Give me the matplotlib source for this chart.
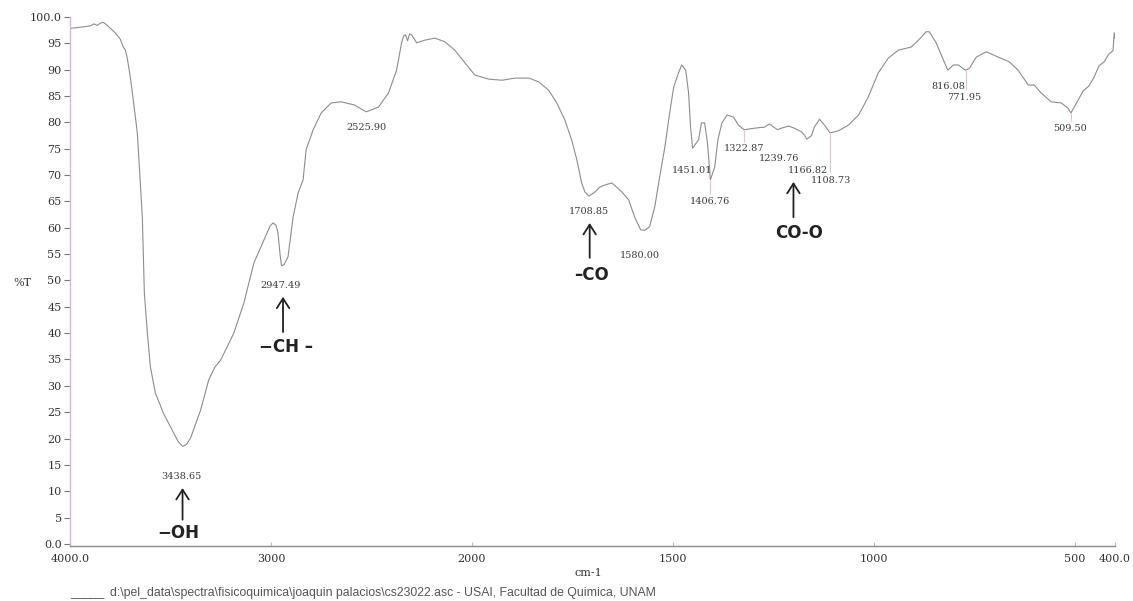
import numpy as np
import matplotlib
matplotlib.use("Agg")
import matplotlib.pyplot as plt

# FTIR spectrum: wavenumber (cm-1) and transmittance (%T)
wavenumber = [
    4000, 3985, 3940, 3900, 3880, 3865, 3850, 3835, 3820, 3800, 3775, 3750,
    3735, 3725, 3715, 3700, 3685, 3665, 3655, 3640, 3630, 3615, 3600, 3575,
    3535, 3485, 3460, 3438.65, 3420, 3400, 3350, 3310, 3280, 3250, 3185, 3135,
    3085, 3035, 3005, 2990, 2975, 2965, 2955, 2947.49, 2935, 2915, 2890, 2865,
    2840, 2825, 2790, 2750, 2700, 2650, 2585, 2525.90, 2465, 2415, 2375, 2350,
    2340, 2330, 2320, 2310, 2300, 2275, 2235, 2185, 2135, 2085, 2035,
    1993, 1958, 1925, 1893, 1858, 1834, 1809, 1789, 1769, 1752, 1739, 1727,
    1719, 1708.85, 1694, 1682, 1670, 1652, 1640, 1627, 1610, 1595, 1580.00,
    1570, 1558, 1545, 1533, 1520, 1508, 1498, 1486, 1478, 1468, 1461, 1456,
    1451.01, 1436, 1429, 1421, 1414, 1409, 1406.76, 1396, 1388, 1378, 1365,
    1349, 1337, 1322.87, 1297, 1272, 1260, 1239.76, 1230, 1212, 1198, 1180,
    1173, 1166.82, 1155, 1148, 1135, 1123, 1108.73, 1088, 1063, 1038, 1014,
    989, 964, 939, 907, 889, 870, 862, 845, 830, 816.08, 802, 790, 771.95,
    762, 745, 720, 691, 663, 641, 616, 601, 584, 559, 534, 517, 509.50, 497,
    479, 465, 452, 440, 427, 415, 405, 402, 400,
]
transmittance = [
    97.8, 97.9, 98.1, 98.3, 98.7, 98.4, 98.8, 99.0, 98.6, 97.9, 97.0, 95.8,
    94.3, 93.8, 92.2, 88.6, 84.2, 78.0, 71.5, 62.0, 47.6, 40.0, 33.6, 28.6,
    24.8, 21.1, 19.3, 18.5, 18.9, 20.1, 25.4, 31.1, 33.5, 34.9, 40.0, 45.7,
    53.3, 57.7, 60.3, 60.9, 60.5, 59.0, 55.0, 52.8, 53.0, 54.5, 62.0, 66.6,
    69.1, 74.8, 78.6, 81.8, 83.7, 83.9, 83.3, 82.0, 82.9, 85.6, 89.9, 95.1,
    96.4, 96.6, 95.5, 96.8, 96.6, 95.1, 95.6, 96.0, 95.3, 93.7, 91.3,
    89.0, 88.2, 88.0, 88.4, 88.4, 87.7, 86.1, 83.7, 80.5, 76.7, 72.9, 68.5,
    66.8, 66.0, 66.8, 67.7, 68.1, 68.5, 67.7, 66.8, 65.3, 62.0, 59.6,
    59.5, 60.2, 64.0, 69.6, 75.3, 81.8, 86.7, 89.4, 90.9, 89.9, 85.6, 79.1,
    75.1, 76.7, 79.9, 79.9, 76.1, 71.5, 69.1, 71.5, 76.7, 79.9, 81.4,
    81.0, 79.5, 78.6, 78.9, 79.1, 79.7, 78.6, 78.9, 79.3, 78.9, 78.2,
    77.6, 76.8, 77.5, 79.1, 80.6, 79.5, 78.0, 78.4, 79.5, 81.4, 84.8,
    89.4, 92.2, 93.7, 94.3, 95.6, 97.2, 97.2, 95.1, 92.4, 89.9, 90.9, 90.9, 89.9,
    90.3, 92.4, 93.4, 92.4, 91.5, 89.9, 87.1, 87.1, 85.6, 83.9, 83.7, 82.7, 81.8, 83.5,
    86.0, 86.9, 88.6, 90.7, 91.5, 93.0, 93.6, 97.0, 96.0,
]

# Labelled band positions: text and label centre
peak_labels = ["3438.65", "2947.49", "2525.90", "1708.85", "1580.00",
               "1451.01", "1406.76", "1322.87", "1239.76", "1166.82",
               "1108.73", "816.08", "771.95", "509.50"]
peak_x = [3445, 2950, 2525, 1709, 1583, 1453, 1409, 1324, 1237, 1163,
          1106, 815, 775, 512]
peak_y = [12.7, 49.0, 79.1, 63.0, 54.8, 70.8, 64.9, 75.0, 73.1, 70.8,
          68.9, 86.9, 84.8, 78.9]

# Drop lines from a band down to its label
drop_x = [1406.76, 1322.87, 1108.73, 771.95, 509.50]
drop_top = [69.1, 78.6, 78.0, 89.9, 81.8]
drop_bottom = [66.5, 76.3, 70.5, 86.2, 80.2]

# Functional group arrows
group_names = ["\u2212OH", "\u2212CH \u2013", "\u2013CO", "CO-O"]
group_x = [3440, 2940, 1707, 1200]
group_arrow_lo = [4.6, 40.2, 54.3, 62.0]
group_arrow_hi = [10.6, 46.9, 60.9, 68.7]
group_text_x = [3460, 2925, 1702, 1185]
group_text_y = [2.1, 37.4, 51.0, 59.0]

x_ticks = [4000, 3000, 2000, 1500, 1000, 500, 400]
x_tick_labels = ["4000.0", "3000", "2000", "1500", "1000", "500", "400.0"]
y_ticks = list(range(0, 101, 5))
y_tick_labels = ["0.0"] + [str(v) for v in range(5, 100, 5)] + ["100.0"]


# Wavenumber axis is expanded by 2x below 2000 cm-1
def fwd(x):
    x = np.asarray(x, dtype=float)
    return np.where(x <= 2000, x, 2000 + (x - 2000) * 0.5)


def inv(u):
    u = np.asarray(u, dtype=float)
    return np.where(u <= 2000, u, 2000 + (u - 2000) * 2.0)


serif = "DejaVu Serif"
sans = "Liberation Sans"
bold_sans = "DejaVu Sans"

W, H = 1133, 601
fig = plt.figure(figsize=(W / 100, H / 100), dpi=100)
ax = fig.add_axes([70 / W, 1 - 546 / H, (1115 - 70) / W, (546 - 17) / H])
ax.set_xscale("function", functions=(fwd, inv))
ax.set_xlim(4000, 400)
ax.set_ylim(-0.4, 100)

ax.plot(wavenumber, transmittance, color="#8c8c8c", lw=0.8)

ax.vlines(drop_x, drop_bottom, drop_top, color="#e8c4c8", lw=0.8)

for t, x, y in zip(peak_labels, peak_x, peak_y):
    ax.text(x, y, t, ha="center", va="center", fontsize=7,
            family=serif, color="#3a3a3a")

for name, x, lo, hi, tx, ty in zip(group_names, group_x, group_arrow_lo,
                                   group_arrow_hi, group_text_x, group_text_y):
    ax.annotate("", xy=(x, hi), xytext=(x, lo),
                arrowprops=dict(arrowstyle="->,head_length=0.7,head_width=0.45",
                                color="#222222", lw=1.3, shrinkA=0, shrinkB=0))
    ax.text(tx, ty, name, ha="center", va="center", fontsize=12,
            family=bold_sans, weight="bold", color="#222222")

for s in ("top", "right"):
    ax.spines[s].set_visible(False)
ax.spines["left"].set_color("#d4b8dc")
ax.spines["left"].set_linewidth(1.0)
ax.spines["bottom"].set_color("#8a8a8a")
ax.spines["bottom"].set_linewidth(1.0)

ax.set_xticks(x_ticks)
ax.set_xticklabels(x_tick_labels)
ax.set_yticks(y_ticks)
ax.set_yticklabels(y_tick_labels)
ax.minorticks_off()
ax.tick_params(axis="x", direction="in", length=3, color="#bbbbbb",
               labelsize=8, pad=6, labelcolor="#333333")
ax.tick_params(axis="y", direction="out", length=4, color="#777777",
               labelsize=8, pad=2, labelcolor="#333333")
for lab in ax.get_xticklabels() + ax.get_yticklabels():
    lab.set_family(serif)

fig.text(22 / W, 1 - 283 / H, "%T", ha="center", va="center",
         fontsize=8, family=serif, color="#333333")
fig.text(588 / W, 1 - 573 / H, "cm-1", ha="center", va="center",
         fontsize=8, family=serif, color="#333333")
fig.text(70 / W, 1 - 593 / H, "_____", ha="left", va="center",
         fontsize=8.8, family=sans, color="#555555")
fig.text(110 / W, 1 - 593 / H,
         "d:\\pel_data\\spectra\\fisicoquimica\\joaquin palacios\\cs23022.asc"
         " - USAI, Facultad de Quimica, UNAM",
         ha="left", va="center", fontsize=8.8, family=sans, color="#555555")

fig.savefig("out.png", dpi=100)
